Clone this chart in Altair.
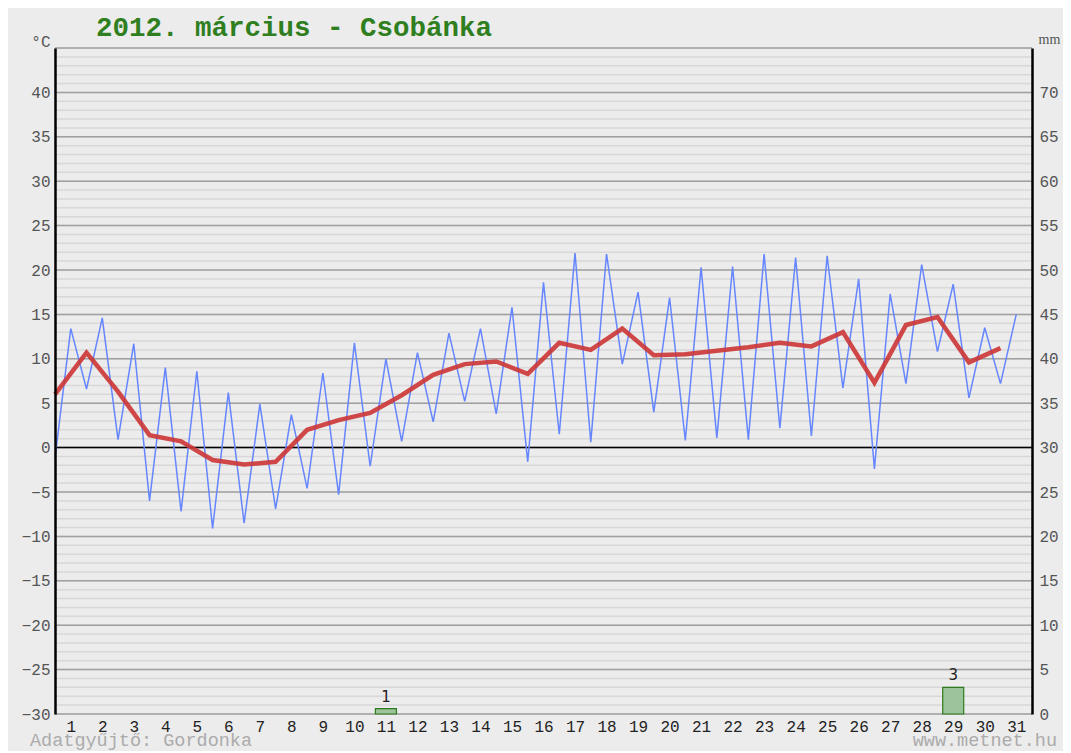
import altair as alt
import pandas as pd

# ---- data ----
days = list(range(1, 32))
tmin = [-1.2, 6.6, 0.9, -6.0, -7.2, -9.1, -8.5, -6.9, -4.6, -5.3,
        -2.1, 0.7, 2.9, 5.2, 3.8, -1.6, 1.5, 0.6, 9.4, 4.0,
        0.8, 1.1, 0.9, 2.2, 1.3, 6.7, -2.4, 7.2, 10.8, 5.6, 7.2]
tmax = [13.4, 14.6, 11.7, 9.0, 8.6, 6.2, 4.9, 3.7, 8.4, 11.8,
        10.0, 10.7, 12.9, 13.4, 15.8, 18.6, 21.9, 21.8, 17.5, 16.9,
        20.3, 20.4, 21.8, 21.4, 21.6, 19.0, 17.3, 20.6, 18.4, 13.5, 15.0]
tavg = [6.0, 10.7, 6.3, 1.4, 0.7, -1.4, -1.9, -1.6, 2.0, 3.1,
        3.9, 5.9, 8.2, 9.4, 9.7, 8.3, 11.8, 11.0, 13.4, 10.4,
        10.5, 10.9, 11.3, 11.8, 11.4, 13.0, 7.3, 13.8, 14.7, 9.6, 11.2]
rain_days = [11, 29]
rain_mm = [0.6, 3.0]

x_ticks = days
c_ticks = list(range(-30, 41, 5))
mm_ticks = list(range(0, 71, 5))

title_text = "2012. március - Csobánka"
left_note = "Adatgyűjtő: Gordonka"
right_note = "www.metnet.hu"

# ---- tables ----
rows = []
for d, lo, hi in zip(days, tmin, tmax):
    rows.append({"t": d - 0.5, "temp": lo, "k": 2 * d - 1})
    rows.append({"t": d, "temp": hi, "k": 2 * d})
minmax = pd.DataFrame(rows)
avg = pd.DataFrame({"t": [d - 0.5 for d in days], "temp": tavg})
rain = pd.DataFrame({"t": rain_days, "mm": rain_mm})

MONO = "Liberation Mono"
X = alt.Scale(domain=[0.5, 31.5], nice=False, zero=False, padding=0)
YT = alt.Scale(domain=[-30, 45], nice=False, zero=False, padding=0)
YM = alt.Scale(domain=[0, 75], nice=False, zero=False, padding=0)

x_axis = alt.Axis(values=x_ticks, grid=False, ticks=False, domain=False,
                  labelFont=MONO, labelFontSize=16, labelColor="#222222",
                  labelPadding=4, title=None, labelFlush=False,
                  labelOverlap=False, zindex=1)
y_axis = alt.Axis(values=c_ticks, grid=False, ticks=False, domain=True,
                  domainColor="black", domainWidth=2.5, zindex=1,
                  labelFont=MONO, labelFontSize=16, labelColor="#555555",
                  labelPadding=5, labelFlush=False, labelOverlap=False,
                  title="°C", titleAngle=0, titleAlign="right",
                  titleBaseline="alphabetic", titleX=-5, titleY=-2,
                  titleFont=MONO, titleFontSize=16, titleFontWeight="normal",
                  titleColor="#555555")
mm_axis = alt.Axis(values=mm_ticks, orient="right", grid=False, ticks=False,
                   domain=True, domainColor="black", domainWidth=2.5, zindex=1,
                   labelFont=MONO, labelFontSize=16, labelColor="#555555",
                   labelPadding=7, labelFlush=False, labelOverlap=False,
                   title="mm", titleAngle=0, titleAlign="left",
                   titleBaseline="alphabetic", titleX=6, titleY=-5,
                   titleFont="Liberation Serif", titleFontSize=14,
                   titleFontWeight="normal", titleColor="#555555")

minor = alt.Chart(alt.sequence(-30, 46, 1, as_="v")).mark_rule(
    color="#d8d8d8", strokeWidth=1.5).encode(
    y=alt.Y("v:Q", scale=YT, axis=y_axis))
major = alt.Chart(alt.sequence(-30, 46, 5, as_="v")).mark_rule(
    color="#a0a0a0", strokeWidth=1.5).encode(
    y=alt.Y("v:Q", scale=YT, axis=y_axis))
zero = alt.Chart(pd.DataFrame({"v": [0]})).mark_rule(
    color="black", strokeWidth=1.5).encode(
    y=alt.Y("v:Q", scale=YT, axis=y_axis))

blue = alt.Chart(minmax).mark_line(color="#6686ff", strokeWidth=1.5).encode(
    x=alt.X("t:Q", scale=X, axis=x_axis),
    y=alt.Y("temp:Q", scale=YT, axis=y_axis),
    order="k:Q")
red = alt.Chart(avg).mark_line(color="#cc3535", strokeWidth=4.5, opacity=0.9).encode(
    x=alt.X("t:Q", scale=X, axis=x_axis),
    y=alt.Y("temp:Q", scale=YT, axis=y_axis))

ttl = alt.Chart(pd.DataFrame({"s": [title_text]})).mark_text(
    align="left", baseline="alphabetic", font=MONO, fontSize=27.5,
    fontWeight="bold", color="#2f7f1f").encode(
    x=alt.value(41), y=alt.value(-12), text="s:N")
note_l = alt.Chart(pd.DataFrame({"s": [left_note]})).mark_text(
    align="left", baseline="alphabetic", font=MONO, fontSize=18.5,
    color="#ababab").encode(x=alt.value(-25), y=alt.value(698), text="s:N")
note_r = alt.Chart(pd.DataFrame({"s": [right_note]})).mark_text(
    align="right", baseline="alphabetic", font=MONO, fontSize=18.5,
    color="#ababab").encode(x=alt.value(1002), y=alt.value(698), text="s:N")

temp_layer = alt.layer(minor, major, zero, blue, red, ttl, note_l, note_r)

bars = alt.Chart(rain).mark_bar(
    size=21, fill="#9cc39a", stroke="#2e7a1e", strokeWidth=1.2).encode(
    x=alt.X("t:Q", scale=X, axis=x_axis),
    y=alt.Y("mm:Q", scale=YM, axis=mm_axis),
    y2=alt.datum(0))
labels = alt.Chart(rain).mark_text(
    baseline="bottom", dy=-4, font="DejaVu Sans", fontSize=15,
    color="#222222").encode(
    x=alt.X("t:Q", scale=X, axis=x_axis),
    y=alt.Y("mm:Q", scale=YM, axis=mm_axis),
    text=alt.Text("mm:Q", format=".0f"))
rain_layer = alt.layer(bars, labels)

chart = alt.layer(temp_layer, rain_layer).resolve_scale(
    y="independent").resolve_axis(y="independent").properties(
    width=977, height=666,
    autosize=alt.AutoSizeParams(type="none"),
    padding={"left": 47, "top": 40, "right": 31, "bottom": 37},
    background="#ececec",
).configure_view(stroke=None)

chart.save("out.html", embed_options={"renderer": "svg", "actions": False})
